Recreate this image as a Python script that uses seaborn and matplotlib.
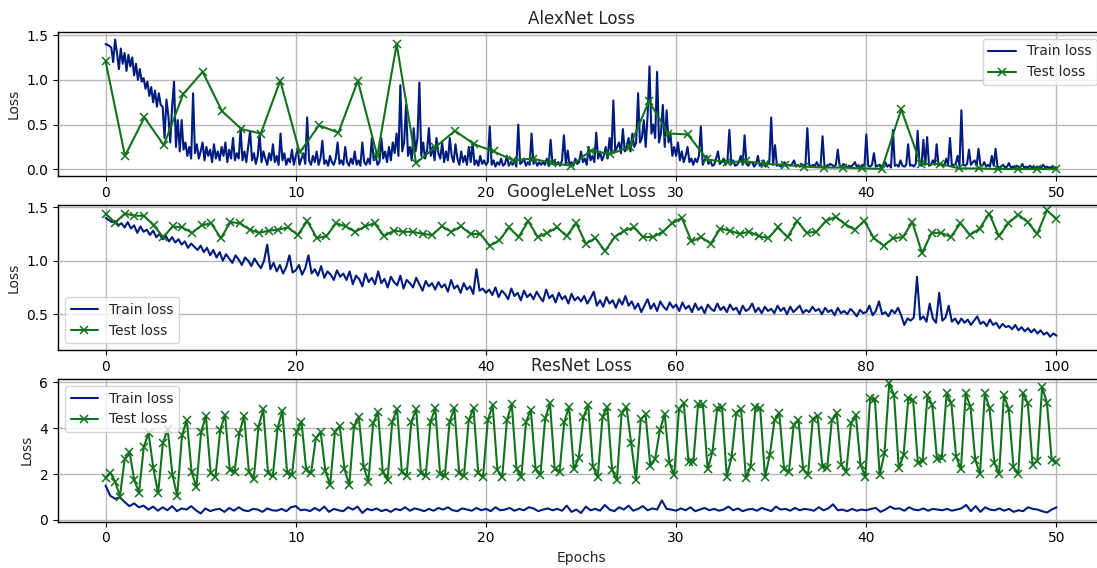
import numpy as np
import pandas as pd
import matplotlib
matplotlib.use("Agg")
import matplotlib.pyplot as plt
import seaborn as sns

# ---------------- data ----------------
alex_epochs = 50
goog_epochs = 100
res_epochs = 50

alex_train = [
    1.40, 1.39, 1.38, 1.36, 1.20, 1.45, 1.30, 1.12, 1.35, 1.18,
    1.30, 1.10, 1.28, 1.15, 1.25, 1.05, 1.18, 1.00, 1.12, 0.98,
    1.02, 0.90, 0.98, 0.82, 0.92, 0.75, 0.88, 0.70, 0.85, 0.72,
    0.70, 0.35, 0.78, 0.60, 0.30, 0.70, 0.98, 0.25, 0.55, 0.20,
    0.55, 0.22, 0.30, 0.15, 0.25, 0.12, 0.85, 0.18, 0.28, 0.12,
    0.20, 0.30, 0.10, 0.25, 0.15, 0.22, 0.08, 0.28, 0.12, 0.20,
    0.10, 0.25, 0.15, 0.30, 0.08, 0.22, 0.12, 0.35, 0.10, 0.18,
    0.12, 0.45, 0.10, 0.20, 0.08, 0.25, 0.43, 0.10, 0.18, 0.06,
    0.15, 0.40, 0.08, 0.20, 0.12, 0.05, 0.18, 0.10, 0.28, 0.08,
    0.15, 0.05, 0.40, 0.10, 0.18, 0.05, 0.12, 0.08, 0.22, 0.05,
    0.15, 0.22, 0.05, 0.12, 0.18, 0.06, 0.58, 0.10, 0.05, 0.15,
    0.08, 0.20, 0.05, 0.12, 0.32, 0.06, 0.10, 0.04, 0.15, 0.08,
    0.05, 0.12, 0.30, 0.06, 0.10, 0.05, 0.25, 0.08, 0.04, 0.12,
    0.06, 0.20, 0.05, 0.10, 0.04, 0.30, 0.08, 0.05, 0.12, 0.06,
    0.35, 0.10, 0.15, 0.05, 0.08, 0.35, 0.12, 0.20, 0.08, 0.25,
    0.10, 0.30, 0.18, 0.40, 0.15, 0.94, 0.20, 0.30, 0.72, 0.15,
    0.25, 0.10, 0.46, 0.20, 0.35, 0.97, 0.15, 0.30, 0.12, 0.20,
    0.46, 0.15, 0.25, 0.10, 0.35, 0.18, 0.12, 0.30, 0.08, 0.20,
    0.10, 0.35, 0.15, 0.08, 0.28, 0.12, 0.05, 0.20, 0.08, 0.15,
    0.05, 0.25, 0.08, 0.30, 0.05, 0.10, 0.04, 0.15, 0.06, 0.10,
    0.05, 0.08, 0.48, 0.05, 0.10, 0.03, 0.08, 0.05, 0.12, 0.04,
    0.06, 0.15, 0.04, 0.08, 0.05, 0.10, 0.03, 0.50, 0.06, 0.08,
    0.12, 0.04, 0.08, 0.05, 0.40, 0.06, 0.10, 0.04, 0.08, 0.05,
    0.08, 0.05, 0.12, 0.04, 0.33, 0.06, 0.10, 0.05, 0.08, 0.04,
    0.10, 0.38, 0.06, 0.21, 0.05, 0.08, 0.04, 0.12, 0.06, 0.08,
    0.20, 0.08, 0.12, 0.05, 0.25, 0.10, 0.15, 0.08, 0.41, 0.12,
    0.20, 0.10, 0.15, 0.25, 0.12, 0.35, 0.18, 0.77, 0.20, 0.25,
    0.30, 0.18, 0.45, 0.20, 0.25, 0.35, 0.20, 0.40, 0.25, 0.30,
    0.85, 0.30, 0.35, 0.55, 0.25, 0.60, 1.15, 0.40, 0.50, 0.35,
    1.09, 0.30, 0.40, 0.72, 0.25, 0.66, 0.30, 0.40, 0.15, 0.25,
    0.15, 0.30, 0.10, 0.20, 0.08, 0.15, 0.25, 0.08, 0.12, 0.05,
    0.12, 0.08, 0.15, 0.48, 0.05, 0.10, 0.15, 0.06, 0.10, 0.04,
    0.05, 0.12, 0.20, 0.06, 0.08, 0.12, 0.05, 0.10, 0.44, 0.06,
    0.10, 0.04, 0.05, 0.08, 0.15, 0.05, 0.38, 0.06, 0.04, 0.08,
    0.08, 0.03, 0.06, 0.15, 0.04, 0.05, 0.10, 0.03, 0.06, 0.08,
    0.58, 0.05, 0.27, 0.04, 0.05, 0.03, 0.06, 0.08, 0.04, 0.05,
    0.04, 0.06, 0.10, 0.03, 0.05, 0.03, 0.06, 0.04, 0.05, 0.46,
    0.05, 0.03, 0.05, 0.04, 0.08, 0.03, 0.05, 0.37, 0.04, 0.03,
    0.04, 0.06, 0.05, 0.03, 0.05, 0.22, 0.04, 0.03, 0.06, 0.04,
    0.02, 0.04, 0.03, 0.05, 0.08, 0.03, 0.04, 0.02, 0.05, 0.03,
    0.39, 0.04, 0.03, 0.05, 0.18, 0.03, 0.04, 0.05, 0.03, 0.05,
    0.08, 0.03, 0.05, 0.02, 0.44, 0.04, 0.05, 0.03, 0.10, 0.04,
    0.03, 0.05, 0.28, 0.04, 0.05, 0.03, 0.06, 0.43, 0.05, 0.04,
    0.33, 0.05, 0.36, 0.04, 0.05, 0.10, 0.05, 0.28, 0.04, 0.06,
    0.05, 0.04, 0.12, 0.05, 0.35, 0.04, 0.05, 0.06, 0.15, 0.04,
    0.66, 0.05, 0.04, 0.06, 0.22, 0.05, 0.08, 0.10, 0.04, 0.23,
    0.05, 0.04, 0.08, 0.03, 0.05, 0.03, 0.15, 0.04, 0.23, 0.03,
    0.02, 0.03, 0.05, 0.02, 0.03, 0.07, 0.02, 0.03, 0.02, 0.04,
    0.03, 0.02, 0.06, 0.02, 0.03, 0.02, 0.04, 0.02, 0.03, 0.02,
    0.03, 0.02, 0.02, 0.05, 0.02, 0.03, 0.02, 0.02, 0.03, 0.02,
    0.02,
]

alex_test = [
    1.21, 0.15, 0.58, 0.27, 0.84, 1.09, 0.65, 0.45, 0.40, 0.99,
    0.19, 0.49, 0.41, 0.99, 0.15, 1.40, 0.07, 0.25, 0.43, 0.28,
    0.20, 0.10, 0.12, 0.07, 0.04, 0.21, 0.17, 0.25, 0.76, 0.40,
    0.39, 0.11, 0.08, 0.09, 0.06, 0.05, 0.03, 0.02, 0.02, 0.01,
    0.005, 0.67, 0.06, 0.06, 0.01, 0.01, 0.003, 0.003, 0.003, 0.003,
]

goog_train = [
    1.40, 1.38, 1.36, 1.37, 1.33, 1.35, 1.31, 1.36, 1.30, 1.33, 1.26, 1.32, 1.27, 1.29, 1.24,
    1.28, 1.22, 1.25, 1.20, 1.23, 1.18, 1.22, 1.17, 1.20, 1.15, 1.18, 1.12, 1.16, 1.13, 1.10,
    1.14, 1.08, 1.12, 1.05, 1.10, 1.03, 1.08, 1.00, 1.06, 1.02, 0.98, 1.05, 1.01, 0.96, 1.03,
    1.00, 0.95, 1.02, 0.97, 0.93, 1.00, 1.15, 0.92, 0.98, 0.90, 0.96, 0.88, 0.94, 1.05, 0.89,
    0.91, 0.96, 0.87, 0.93, 1.05, 0.88, 0.92, 0.86, 0.95, 0.84, 0.90, 0.87, 0.82, 0.91, 0.85,
    0.88, 0.82, 0.90, 0.78, 0.86, 0.83, 0.76, 0.88, 0.80, 0.84, 0.78, 0.90, 0.79, 0.83, 0.75,
    0.85, 0.80, 0.77, 0.86, 0.74, 0.82, 0.79, 0.75, 0.84, 0.78, 0.72, 0.81, 0.76, 0.79, 0.73,
    0.80, 0.75, 0.78, 0.71, 0.82, 0.74, 0.77, 0.70, 0.79, 0.73, 0.76, 0.69, 0.92, 0.72, 0.74,
    0.70, 0.73, 0.68, 0.75, 0.66, 0.72, 0.69, 0.64, 0.74, 0.67, 0.70, 0.63, 0.72, 0.66, 0.69,
    0.64, 0.71, 0.66, 0.62, 0.73, 0.65, 0.68, 0.61, 0.70, 0.64, 0.67, 0.60, 0.69, 0.63, 0.66,
    0.62, 0.67, 0.60, 0.65, 0.71, 0.58, 0.63, 0.57, 0.66, 0.60, 0.63, 0.56, 0.64, 0.59, 0.67,
    0.58, 0.62, 0.55, 0.60, 0.52, 0.58, 0.64, 0.55, 0.60, 0.53, 0.62, 0.57, 0.54, 0.61, 0.56,
    0.59, 0.53, 0.61, 0.55, 0.58, 0.52, 0.60, 0.54, 0.57, 0.51, 0.59, 0.55, 0.53, 0.60, 0.54,
    0.57, 0.52, 0.59, 0.54, 0.56, 0.50, 0.58, 0.53, 0.55, 0.60, 0.52, 0.56, 0.51, 0.57, 0.53,
    0.55, 0.51, 0.58, 0.53, 0.56, 0.50, 0.57, 0.52, 0.55, 0.58, 0.51, 0.54, 0.52, 0.57, 0.53,
    0.55, 0.50, 0.56, 0.52, 0.54, 0.49, 0.56, 0.51, 0.53, 0.50, 0.55, 0.52, 0.48, 0.54, 0.51,
    0.52, 0.58, 0.49, 0.53, 0.62, 0.50, 0.52, 0.48, 0.54, 0.51, 0.56, 0.49, 0.40, 0.46, 0.44,
    0.47, 0.85, 0.45, 0.48, 0.43, 0.60, 0.46, 0.42, 0.70, 0.44, 0.47, 0.58, 0.43, 0.46, 0.41,
    0.46, 0.42, 0.45, 0.40, 0.44, 0.48, 0.41, 0.43, 0.39, 0.45, 0.40, 0.42, 0.37, 0.41, 0.38,
    0.39, 0.36, 0.40, 0.35, 0.38, 0.34, 0.37, 0.33, 0.36, 0.32, 0.35, 0.31, 0.33, 0.29, 0.32,
    0.30,
]

goog_test = [
    1.44, 1.355, 1.44, 1.42, 1.42, 1.33, 1.22, 1.32, 1.31, 1.26,
    1.33, 1.35, 1.21, 1.36, 1.35, 1.29, 1.26, 1.28, 1.29, 1.31,
    1.24, 1.37, 1.21, 1.23, 1.35, 1.32, 1.27, 1.32, 1.35, 1.23,
    1.28, 1.27, 1.27, 1.25, 1.24, 1.32, 1.27, 1.32, 1.25, 1.25,
    1.14, 1.19, 1.31, 1.22, 1.37, 1.22, 1.26, 1.31, 1.23, 1.35,
    1.16, 1.21, 1.09, 1.22, 1.28, 1.31, 1.22, 1.22, 1.27, 1.35,
    1.40, 1.18, 1.22, 1.16, 1.30, 1.28, 1.25, 1.27, 1.23, 1.21,
    1.31, 1.22, 1.37, 1.26, 1.27, 1.37, 1.41, 1.34, 1.29, 1.37,
    1.21, 1.14, 1.21, 1.22, 1.36, 1.07, 1.26, 1.26, 1.22, 1.35,
    1.24, 1.30, 1.44, 1.23, 1.35, 1.43, 1.36, 1.25, 1.47, 1.39,
]

res_train = [
    1.50, 1.05, 0.92, 0.98,
    0.78, 0.60, 0.72, 0.55,
    0.62, 0.45, 0.58, 0.40,
    0.55, 0.42, 0.60, 0.38,
    0.50, 0.45, 0.60, 0.42,
    0.28, 0.50, 0.38, 0.45,
    0.48, 0.35, 0.52, 0.40,
    0.55, 0.42, 0.38, 0.48,
    0.45, 0.35, 0.50, 0.42,
    0.40, 0.48, 0.38, 0.55,
    0.60, 0.42, 0.45, 0.38,
    0.52, 0.40, 0.58, 0.35,
    0.48, 0.42, 0.38, 0.55,
    0.45, 0.58, 0.30, 0.48,
    0.42, 0.50, 0.38, 0.45,
    0.35, 0.48, 0.42, 0.55,
    0.40, 0.50, 0.45, 0.38,
    0.48, 0.40, 0.52, 0.45,
    0.55, 0.42, 0.38, 0.50,
    0.45, 0.40, 0.52, 0.42,
    0.48, 0.38, 0.55, 0.42,
    0.45, 0.52, 0.40, 0.48,
    0.42, 0.55, 0.50, 0.38,
    0.45, 0.50, 0.42, 0.48,
    0.40, 0.62, 0.35, 0.45,
    0.30, 0.58, 0.42, 0.48,
    0.40, 0.65, 0.45, 0.38,
    0.55, 0.45, 0.62, 0.40,
    0.48, 0.60, 0.42, 0.50,
    0.45, 0.85, 0.48, 0.45,
    0.40, 0.50, 0.42, 0.55,
    0.38, 0.45, 0.52, 0.42,
    0.48, 0.40, 0.45, 0.58,
    0.42, 0.50, 0.38, 0.45,
    0.48, 0.40, 0.52, 0.45,
    0.38, 0.58, 0.45, 0.48,
    0.40, 0.52, 0.42, 0.48,
    0.45, 0.40, 0.55, 0.42,
    0.50, 0.68, 0.42, 0.45,
    0.38, 0.48, 0.40, 0.45,
    0.42, 0.48, 0.52, 0.35,
    0.45, 0.58, 0.48, 0.50,
    0.40, 0.55, 0.45, 0.42,
    0.50, 0.40, 0.48, 0.45,
    0.42, 0.48, 0.40, 0.45,
    0.50, 0.65, 0.38, 0.60,
    0.35, 0.55, 0.45, 0.42,
    0.50, 0.40, 0.48, 0.35,
    0.42, 0.38, 0.55, 0.48,
    0.45, 0.38, 0.32, 0.45,
    0.55,
]

res_test = [
    1.85, 2.06, 1.67, 1.02,
    2.65, 2.98, 1.74, 1.19,
    3.20, 3.78, 2.25, 1.16,
    3.37, 3.95, 1.96, 1.05,
    3.70, 4.36, 2.10, 1.42,
    3.85, 4.53, 2.03, 1.89,
    3.92, 4.60, 2.18, 2.10,
    3.80, 4.53, 2.10, 1.77,
    4.07, 4.83, 2.06, 1.92,
    4.00, 4.77, 2.03, 1.96,
    3.85, 4.29, 2.18, 2.03,
    3.56, 3.85, 2.14, 1.53,
    3.85, 4.10, 2.21, 1.53,
    4.10, 4.50, 2.33, 1.67,
    4.22, 4.72, 2.10, 1.75,
    4.29, 4.83, 2.10, 1.92,
    4.29, 4.83, 2.03, 1.92,
    4.29, 4.87, 2.00, 1.92,
    4.29, 4.87, 2.03, 1.92,
    4.36, 4.87, 2.03, 1.89,
    4.36, 5.01, 2.18, 1.86,
    4.36, 5.06, 2.21, 1.86,
    4.29, 4.80, 2.21, 1.96,
    4.43, 5.09, 2.21, 2.10,
    4.29, 4.94, 2.21, 2.69,
    4.50, 5.01, 2.33, 1.86,
    4.50, 4.94, 2.18, 1.74,
    4.65, 4.94, 3.34, 1.74,
    4.39, 4.61, 2.35, 2.65,
    3.92, 4.61, 2.47, 1.96,
    4.83, 5.09, 2.54, 2.54,
    5.04, 5.04, 2.21, 2.98,
    4.87, 4.94, 1.89, 2.73,
    4.68, 4.83, 1.82, 2.33,
    4.94, 4.87, 1.86, 2.83,
    4.36, 4.65, 2.21, 2.10,
    4.14, 4.36, 2.21, 1.96,
    4.39, 4.53, 2.33, 2.25,
    4.36, 4.68, 2.40, 2.10,
    4.22, 4.58, 2.40, 1.89,
    5.31, 5.26, 1.96, 2.91,
    5.96, 5.45, 2.25, 2.83,
    5.31, 5.23, 2.47, 2.59,
    5.45, 5.01, 2.65, 2.69,
    5.52, 5.09, 2.76, 2.21,
    5.52, 4.94, 2.62, 2.00,
    5.52, 4.87, 2.50, 2.00,
    5.45, 4.83, 2.30, 2.00,
    5.55, 5.09, 2.40, 2.59,
    5.81, 5.12, 2.62, 2.54,
]

titles = ["AlexNet Loss", "GoogleLeNet Loss", "ResNet Loss"]
series_labels = ["Train loss", "Test loss"]
x_label = "Epochs"
y_label = "Loss"

# ---------------- style ----------------
sns.set_theme(style="ticks", palette="dark")
plt.rcParams.update({
    "font.family": ["DejaVu Sans"],
    "font.size": 10,
    "axes.titlesize": 12,
    "axes.labelsize": 10,
    "xtick.labelsize": 10,
    "ytick.labelsize": 10,
    "legend.fontsize": 10,
    "axes.edgecolor": "black",
    "axes.linewidth": 1.0,
    "xtick.color": "black",
    "ytick.color": "black",
    "xtick.major.size": 3.5,
    "ytick.major.size": 3.5,
    "xtick.major.width": 0.8,
    "ytick.major.width": 0.8,
    "grid.color": "#b8b8b8",
    "grid.linewidth": 1.0,
    "text.color": "#262626",
    "axes.labelcolor": "#262626",
})

train_color = "#001c7f"
test_color = "#12711c"

fig = plt.figure(figsize=(10.97, 5.68), dpi=100)
rects = [
    (0.0529, 0.6893, 0.9535, 0.2544),
    (0.0529, 0.3838, 0.9535, 0.2553),
    (0.0529, 0.0815, 0.9535, 0.2512),
]

panels = [
    (alex_train, alex_test, alex_epochs, (-0.08, 1.535), [0.0, 0.5, 1.0, 1.5], "upper right", 10),
    (goog_train, goog_test, goog_epochs, (0.166, 1.52), [0.5, 1.0, 1.5], "lower left", 20),
    (res_train, res_test, res_epochs, (-0.08, 6.15), [0, 2, 4, 6], "upper left", 10),
]

for i, (rect, (tr, te, ep, ylim, yt, loc, xstep)) in enumerate(zip(rects, panels)):
    ax = fig.add_axes(rect)
    df_tr = pd.DataFrame({"epoch": np.linspace(0, ep, len(tr)), "loss": tr})
    df_te = pd.DataFrame({"epoch": np.linspace(0, ep, len(te)), "loss": te})
    sns.lineplot(data=df_tr, x="epoch", y="loss", ax=ax, color=train_color,
                 linewidth=1.5, label=series_labels[0], estimator=None)
    sns.lineplot(data=df_te, x="epoch", y="loss", ax=ax, color=test_color,
                 linewidth=1.5, marker="x", markersize=6, markeredgewidth=1.1,
                 markeredgecolor=test_color, label=series_labels[1], estimator=None)
    ax.set_xlim(-0.05 * ep, 1.05 * ep)
    ax.set_ylim(*ylim)
    ax.set_yticks(yt)
    ax.set_xticks(np.arange(0, ep + 1, xstep))
    ax.grid(True)
    ax.set_axisbelow(True)
    ax.set_title(titles[i])
    ax.set_ylabel(y_label)
    ax.set_xlabel(x_label if i == 2 else "")
    for s in ax.spines.values():
        s.set_visible(True)
        s.set_color("black")
    ax.legend(loc=loc, frameon=True, fancybox=True, framealpha=0.8)

fig.savefig("out.png", dpi=100)
